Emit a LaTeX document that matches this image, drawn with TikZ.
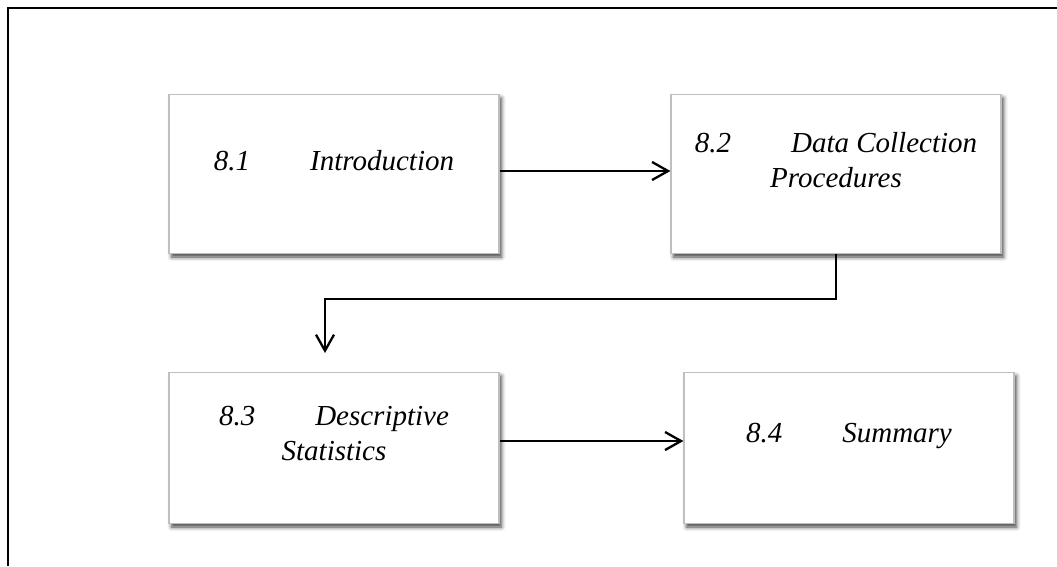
\documentclass[tikz,border=0pt]{standalone}
\usepackage{fontspec}
\setmainfont{Liberation Serif}
\usetikzlibrary{arrows.meta,shadows.blur}

\newcommand{\secgap}{\hspace{60pt}}

\tikzset{
  stage/.style={draw=gray!50, line width=1.2pt, fill=white, minimum width=330pt,
    inner sep=0pt, blur shadow={shadow xshift=2.5pt, shadow yshift=-3.5pt,
    shadow blur radius=4pt, shadow opacity=75}},
  caption/.style={align=center, font=\fontsize{29}{35}\selectfont\itshape,
    inner sep=0pt, anchor=base},
  arr/.style={line width=2.3pt, -{Straight Barb[length=16pt, width=18pt]}}
}

\begin{document}
\begin{tikzpicture}[x=1pt, y=-1pt]
  \useasboundingbox (0,0) rectangle (1057,566);
  \draw[line width=2pt] (8,566) -- (8,8) -- (1057,8);

  % the four boxes
  \node[stage, minimum height=159pt] (b1) at (334,174) {};
  \node[stage, minimum height=159pt] (b2) at (836,174) {};
  \node[stage, minimum height=151pt] (b3) at (334,448) {};
  \node[stage, minimum height=151pt] (b4) at (849,448) {};

  % base of a two-line caption is its last line
  \node[caption] (t1) at (334,170) {8.1\secgap Introduction};
  \node[caption] (t2) at (836,187) {8.2\secgap Data Collection\\Procedures};
  \node[caption] (t3) at (334,460) {8.3\secgap Descriptive\\Statistics};
  \node[caption] (t4) at (849,442) {8.4\secgap Summary};

  % arrows
  \coordinate (bend) at (836,299);
  \coordinate (tip) at (325,353);
  \draw[arr] ([yshift=3pt]b1.east) -- ([yshift=3pt]b2.west);
  \draw[arr] (b2.south) -- (bend) -| (tip);
  \draw[arr] ([yshift=7pt]b3.east) -- ([yshift=7pt]b4.west);
\end{tikzpicture}
\end{document}
